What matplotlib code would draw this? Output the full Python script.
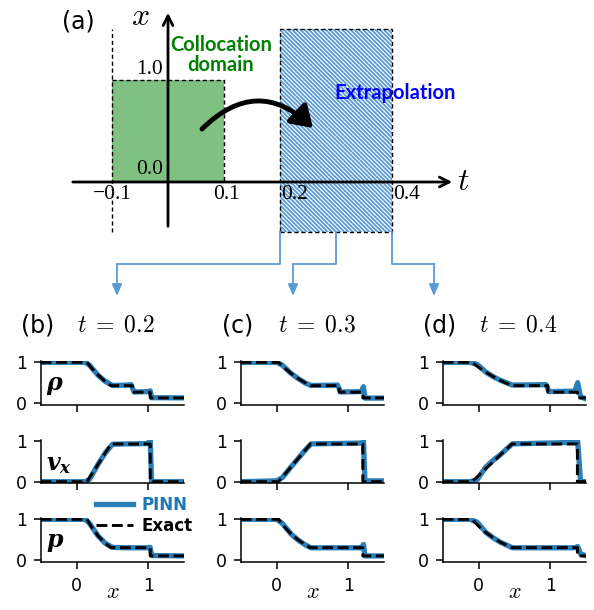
import matplotlib
matplotlib.use('Agg')
import matplotlib.pyplot as plt
from matplotlib.patches import Rectangle, FancyArrowPatch

plt.rcParams['hatch.linewidth'] = 1.3

# ---------------- data ----------------
time_labels = ['0.2', '0.3', '0.4']
panel_tags = ['(b)', '(c)', '(d)']
var_labels = [r'$\mathbfit{\rho}$', r'$\mathbfit{v}_{\mathbfit{x}}$', r'$\mathbfit{p}$']

# exact solution (t = 0.2, 0.3, 0.4)
x_exact_02 = [-0.5, 0.145, 0.2, 0.3, 0.4, 0.479, 0.778, 0.778, 1.026, 1.026, 1.5]
rho_exact_02 = [1, 1, 0.877, 0.685, 0.528, 0.426, 0.426, 0.266, 0.266, 0.125, 0.125]
v_exact_02 = [0, 0, 0.153, 0.430, 0.708, 0.927, 0.927, 0.927, 0.927, 0, 0]
p_exact_02 = [1, 1, 0.832, 0.589, 0.410, 0.303, 0.303, 0.303, 0.303, 0.1, 0.1]

x_exact_03 = [-0.5, 0.027, 0.1, 0.2, 0.3, 0.4, 0.472, 0.871, 0.871, 1.201, 1.201, 1.5]
rho_exact_03 = [1, 1, 0.877, 0.730, 0.603, 0.494, 0.426, 0.426, 0.266, 0.266, 0.125, 0.125]
v_exact_03 = [0, 0, 0.153, 0.361, 0.569, 0.777, 0.927, 0.927, 0.927, 0.927, 0, 0]
p_exact_03 = [1, 1, 0.832, 0.644, 0.493, 0.373, 0.303, 0.303, 0.303, 0.303, 0.1, 0.1]

x_exact_04 = [-0.5, -0.092, 0.0, 0.1, 0.2, 0.3, 0.4, 0.465, 0.964, 0.964, 1.376, 1.376, 1.5]
rho_exact_04 = [1, 1, 0.877, 0.758, 0.652, 0.557, 0.475, 0.426, 0.426, 0.266, 0.266, 0.125, 0.125]
v_exact_04 = [0, 0, 0.153, 0.319, 0.486, 0.653, 0.819, 0.927, 0.927, 0.927, 0.927, 0, 0]
p_exact_04 = [1, 1, 0.832, 0.678, 0.549, 0.441, 0.353, 0.303, 0.303, 0.303, 0.303, 0.1, 0.1]

# PINN prediction
x_pinn_02 = [-0.5, 0.12, 0.18, 0.3, 0.4, 0.5, 0.7, 0.76, 0.8, 1.0, 1.025, 1.045, 1.5]
rho_pinn_02 = [1, 1, 0.93, 0.68, 0.53, 0.43, 0.44, 0.45, 0.27, 0.28, 0.30, 0.13, 0.125]
v_pinn_02 = [0, 0, 0.06, 0.43, 0.71, 0.92, 0.93, 0.93, 0.93, 0.94, 1.03, 0.0, 0.0]
p_pinn_02 = [1, 1, 0.90, 0.59, 0.41, 0.31, 0.30, 0.30, 0.30, 0.30, 0.31, 0.11, 0.1]

x_pinn_03 = [-0.5, 0.0, 0.08, 0.2, 0.3, 0.4, 0.48, 0.85, 0.89, 1.18, 1.21, 1.23, 1.5]
rho_pinn_03 = [1, 1, 0.93, 0.73, 0.60, 0.49, 0.43, 0.44, 0.27, 0.28, 0.40, 0.12, 0.12]
v_pinn_03 = [0, 0.02, 0.10, 0.36, 0.57, 0.78, 0.93, 0.94, 0.94, 0.95, 1.0, 0.02, 0.02]
p_pinn_03 = [1, 1, 0.90, 0.64, 0.49, 0.37, 0.30, 0.30, 0.30, 0.30, 0.38, 0.10, 0.10]

x_pinn_04 = [-0.5, -0.12, -0.02, 0.1, 0.2, 0.3, 0.47, 0.94, 0.98, 1.34, 1.38, 1.42, 1.5]
rho_pinn_04 = [1, 1, 0.95, 0.76, 0.65, 0.56, 0.44, 0.45, 0.28, 0.29, 0.50, 0.15, 0.10]
v_pinn_04 = [0, 0, 0.05, 0.36, 0.52, 0.66, 0.93, 0.95, 0.95, 0.97, 1.0, 0.0, 0.0]
p_pinn_04 = [1, 1, 0.93, 0.68, 0.55, 0.44, 0.30, 0.30, 0.30, 0.30, 0.33, 0.15, 0.10]

exact_x = [x_exact_02, x_exact_03, x_exact_04]
exact_vals = [[rho_exact_02, v_exact_02, p_exact_02],
              [rho_exact_03, v_exact_03, p_exact_03],
              [rho_exact_04, v_exact_04, p_exact_04]]
pinn_x = [x_pinn_02, x_pinn_03, x_pinn_04]
pinn_vals = [[rho_pinn_02, v_pinn_02, p_pinn_02],
             [rho_pinn_03, v_pinn_03, p_pinn_03],
             [rho_pinn_04, v_pinn_04, p_pinn_04]]

# sketch (a): domains in (t, x)
colloc_t = [-0.1, 0.1]
colloc_x = [0.0, 1.0]
extrap_t = [0.2, 0.4]
t_ticks = [-0.1, 0.1, 0.2, 0.4]
t_tick_labels = ['\u22120.1', '0.1', '0.2', '0.4']
snap_times = [0.2, 0.3, 0.4]

W, H = 594, 610
fig = plt.figure(figsize=(W / 100, H / 100), dpi=100)

# ---------------- panel (a) ----------------
ax = fig.add_axes([0, 310 / H, 1, 300 / H])
ax.set_xlim(-0.3, 0.7607)
ax.set_ylim(-1.1569, 1.7843)
ax.axis('off')

green = '#80c080'
lblue = '#5b9bd5'
ax.add_patch(Rectangle((colloc_t[0], colloc_x[0]), colloc_t[1] - colloc_t[0],
                       colloc_x[1] - colloc_x[0], facecolor=green, edgecolor='none'))
ax.plot([colloc_t[0], colloc_t[1], colloc_t[1]], [colloc_x[1], colloc_x[1], colloc_x[0]],
        'k--', lw=1.0, dashes=(3, 2))
ax.plot([colloc_t[0], colloc_t[0]], [-0.49, 1.5], 'k--', lw=1.0, dashes=(3, 2))

ext_lo, ext_hi = -0.49, 1.5
ax.add_patch(Rectangle((extrap_t[0], ext_lo), extrap_t[1] - extrap_t[0], ext_hi - ext_lo,
                       facecolor='white', edgecolor=lblue, hatch='\\' * 8, lw=0))
ax.add_patch(Rectangle((extrap_t[0], ext_lo), extrap_t[1] - extrap_t[0], ext_hi - ext_lo,
                       facecolor='none', edgecolor='k', lw=1.0, ls=(0, (3, 2))))

# coordinate axes
ax.annotate('', xy=(0.5125, 0), xytext=(-0.175, 0),
            arrowprops=dict(arrowstyle='->,head_width=0.35,head_length=0.7', lw=2, color='k'))
ax.annotate('', xy=(0, 1.686), xytext=(0, -0.461),
            arrowprops=dict(arrowstyle='->,head_width=0.35,head_length=0.7', lw=2, color='k'))
ax.text(0.527, 0, r'$t$', fontsize=23, math_fontfamily='cm', ha='center', va='center')
ax.text(-0.05, 1.62, r'$x$', fontsize=23, math_fontfamily='cm', ha='center', va='center')

serif = 'Liberation Serif'
fs = 15.5
ax.text(-0.1, -0.127, t_tick_labels[0], family=serif, fontsize=fs, ha='center', va='center')
ax.text(0.105, -0.127, t_tick_labels[1], family=serif, fontsize=fs, ha='center', va='center')
ax.text(0.202, -0.127, t_tick_labels[2], family=serif, fontsize=fs, ha='left', va='center')
ax.text(0.402, -0.127, t_tick_labels[3], family=serif, fontsize=fs, ha='left', va='center')
ax.text(-0.009, colloc_x[1] + 0.1, '1.0', family=serif, fontsize=fs, ha='right', va='center')
ax.text(-0.009, colloc_x[0] + 0.127, '0.0', family=serif, fontsize=fs, ha='right', va='center')

ax.text(0.0946, 1.245, 'Collocation\ndomain', color='green', fontweight='bold',
        family='Lato', fontsize=14.5, ha='center', va='center', linespacing=1.05)
ax.text(0.405, 0.873, 'Extrapolation', color='blue', fontweight='bold',
        family='Lato', fontsize=14.5, ha='center', va='center')

ax.add_patch(FancyArrowPatch((0.0571, 0.5), (0.2625, 0.51),
                             connectionstyle='arc3,rad=-0.5',
                             arrowstyle='-|>,head_width=0.45,head_length=0.7',
                             mutation_scale=18, lw=3.5, color='k'))

# connectors from the extrapolation box to the snapshots
ends = [-0.0911, 0.2232, 0.475]
y_mid, y_tip = -0.804, -1.118
for ts, te in zip(snap_times, ends):
    ax.plot([ts, ts, te], [ext_lo, y_mid, y_mid], color=lblue, lw=1.3)
    ax.annotate('', xy=(te, y_tip), xytext=(te, y_mid),
                arrowprops=dict(arrowstyle='-|>,head_width=0.3,head_length=0.7',
                                color=lblue, lw=1.3, shrinkA=0, shrinkB=0))

fig.text(62 / W, 1 - 22 / H, '(a)', fontsize=17, ha='left', va='center')

# ---------------- panels (b)-(d) ----------------
col_left = [40.7, 240.7, 442.7]
col_w = 143.6
row_bottom = [404.6, 483.3, 561.6]
row_h = 43.5
pinn_color = '#1f77b4'

for c in range(3):
    for r in range(3):
        a = fig.add_axes([col_left[c] / W, 1 - row_bottom[r] / H, col_w / W, row_h / H])
        lp, = a.plot(pinn_x[c], pinn_vals[c][r], color=pinn_color, lw=3.8, alpha=0.95,
                     solid_joinstyle='round', label='PINN')
        le, = a.plot(exact_x[c], exact_vals[c][r], color='k', lw=2.1, ls='--', label='Exact')
        a.set_xlim(-0.5, 1.5)
        a.set_ylim(-0.04, 1.03)
        a.set_xticks([0, 1])
        a.set_yticks([0, 1])
        for s in ['top', 'right']:
            a.spines[s].set_visible(False)
        for s in ['left', 'bottom']:
            a.spines[s].set_linewidth(1.1)
        a.tick_params(axis='both', labelsize=12.5, length=5, width=1.1)
        a.tick_params(axis='x', pad=6)
        a.tick_params(axis='y', pad=5)
        if r < 2:
            a.set_xticklabels([])
        else:
            a.set_xlabel(r'$x$', fontsize=16, math_fontfamily='cm', labelpad=-9)
        if c == 0:
            a.text(0.04, 0.45, var_labels[r], transform=a.transAxes, fontsize=17,
                   math_fontfamily='dejavuserif', ha='left', va='center')
        if c == 0 and r == 2:
            a.legend(handles=[lp, le], loc='lower left', bbox_to_anchor=(0.33, 0.43),
                     frameon=False, handlelength=2.2, handletextpad=0.5,
                     labelspacing=0.15, borderpad=0, labelcolor='linecolor',
                     prop=dict(weight='bold', size=12))
    fig.text((21 + 201 * c) / W, 1 - 325 / H, panel_tags[c], fontsize=17,
             ha='left', va='center')
    fig.text((77 + 201 * c) / W, 1 - 325 / H, r'$t\;=\;%s$' % time_labels[c], fontsize=17,
             math_fontfamily='cm', ha='left', va='center')

fig.savefig('out.png', dpi=100)
